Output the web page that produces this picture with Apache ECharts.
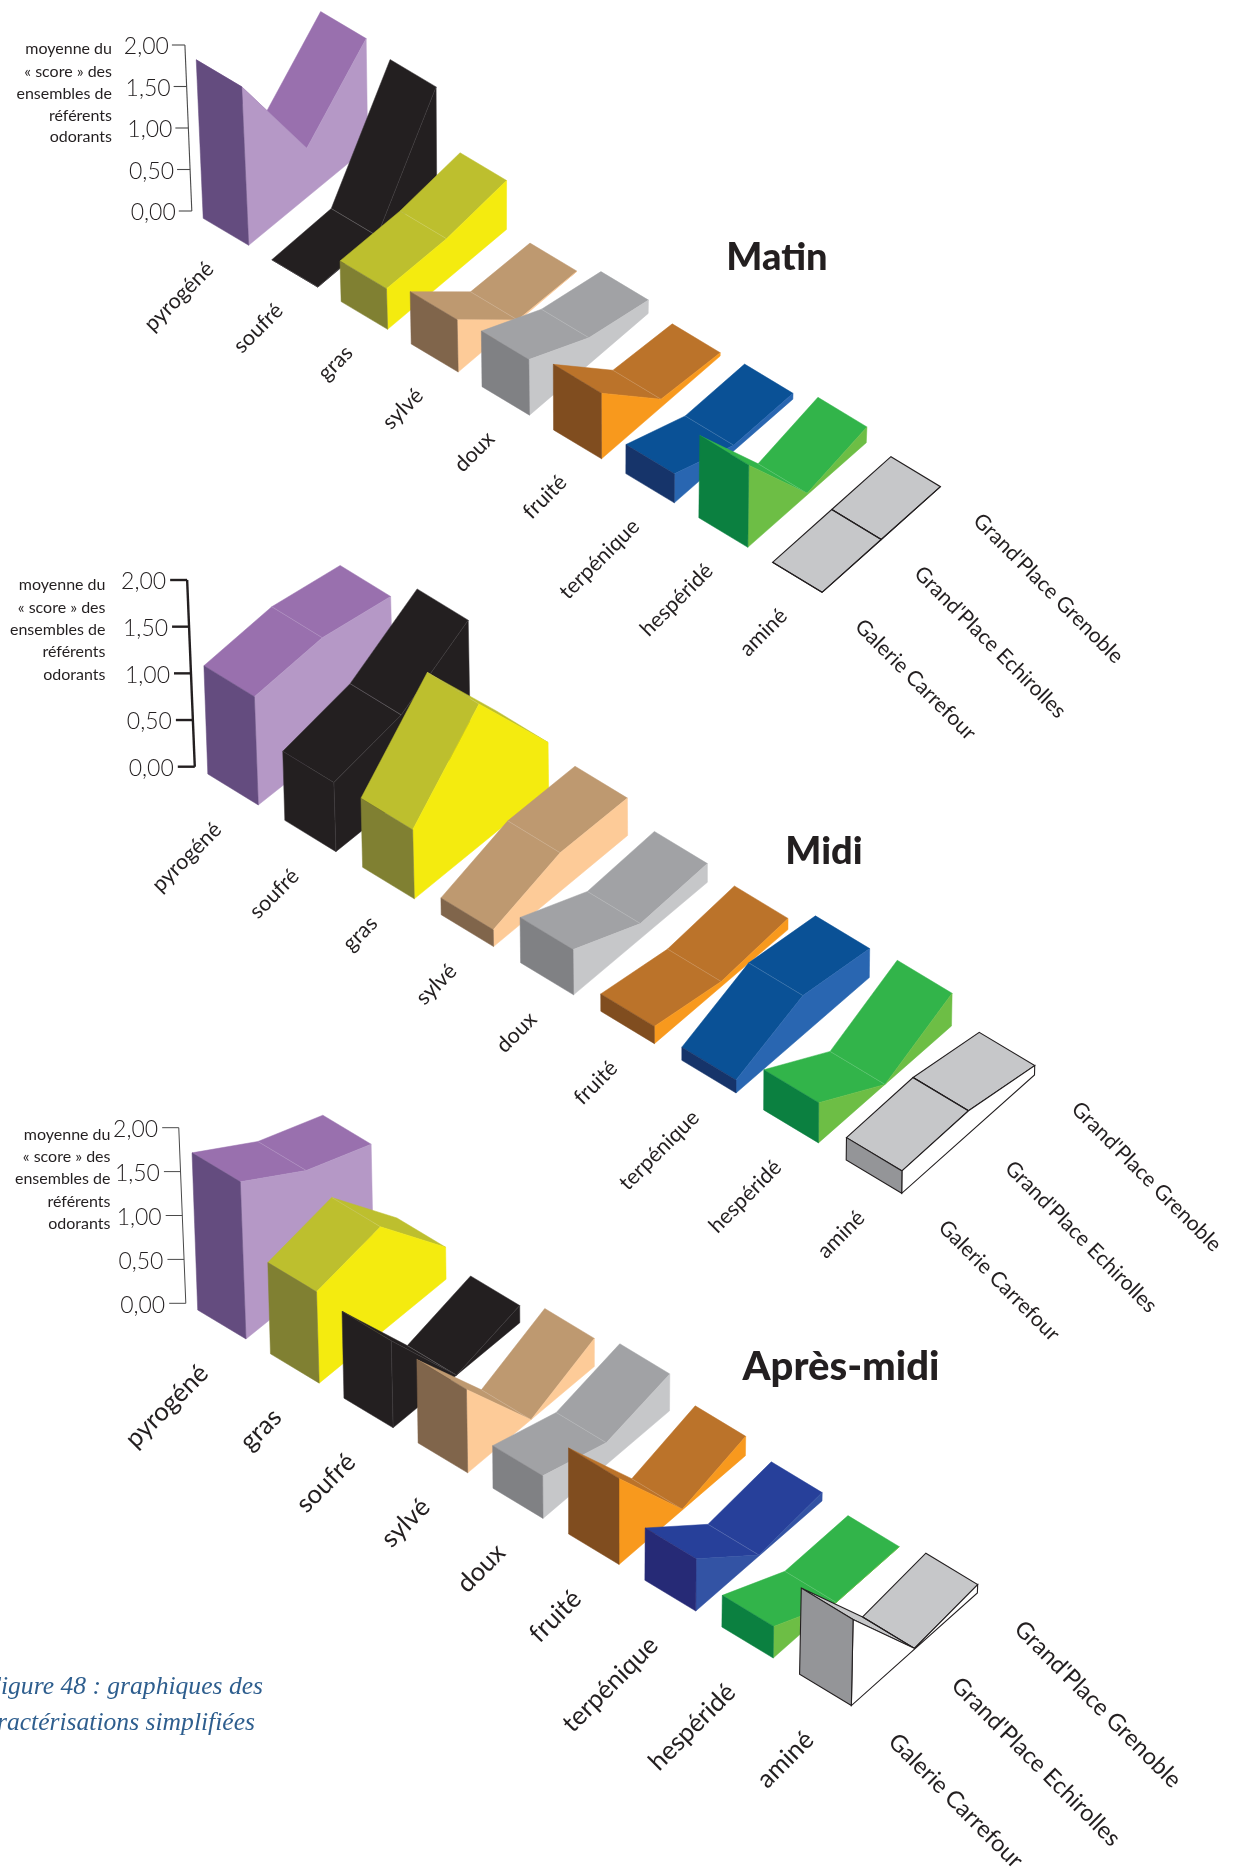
<!DOCTYPE html>
<html><head><meta charset="utf-8">
<style>html,body{margin:0;padding:0;background:#fff}#c{width:1234px;height:1874px}</style>
<script src="https://cdn.jsdelivr.net/npm/echarts@6/dist/echarts.min.js"></script>
</head><body><div id="c"></div>
<script>
// ---------- data ----------
const tickValues = [0, 0.5, 1, 1.5, 2];
const tickLabels = ['0,00', '0,50', '1,00', '1,50', '2,00'];
const locations = ['Galerie Carrefour', "Grand'Place Echirolles", "Grand'Place Grenoble"];
const axisTitleLines = ['moyenne du', '« score » des', 'ensembles de', 'référents', 'odorants'];

const matinCategories = ['pyrogéné', 'soufré', 'gras', 'sylvé', 'doux', 'fruité', 'terpénique', 'hespéridé', 'aminé'];
const matinCarrefour  = [1.91, 0.00, 0.49, 0.63, 0.67, 0.79, 0.35, 0.99, 0];
const matinEchirolles = [0.58, 0.02, 0.49, 0.02, 0.32, 0.10, 0.07, 0.02, 0];
const matinGrenoble   = [1.31, 1.22, 0.59, 0.00, 0.16, 0.04, 0.07, 0.19, 0];

const midiCategories = ['pyrogéné', 'soufré', 'gras', 'sylvé', 'doux', 'fruité', 'terpénique', 'hespéridé', 'aminé'];
const midiCarrefour  = [1.16, 0.74, 0.74, 0.18, 0.485, 0.185, 0.14, 0.43, 0.24];
const midiEchirolles = [1.22, 0.885, 1.50, 0.41, 0.16, 0.055, 0.425, 0.00, 0.25];
const midiGrenoble   = [1.09, 1.32, 0.50, 0.40, 0.20, 0.12, 0.31, 0.35, 0.10];

const apresCategories = ['pyrogéné', 'gras', 'soufré', 'sylvé', 'doux', 'fruité', 'terpénique', 'hespéridé', 'aminé'];
const apresCarrefour  = [1.79, 1.04, 0.99, 0.95, 0.485, 0.98, 0.595, 0.36, 0.98];
const apresEchirolles = [1.335, 1.19, 0.00, 0.00, 0.25, 0.01, 0.01, 0.00, 0.01];
const apresGrenoble   = [1.05, 0.365, 0.195, 0.32, 0.42, 0.22, 0.095, 0.00, 0.095];

// ---------- styles: [top, side, front] ----------
const palette = {
  'pyrogéné':   ['#9970AE', '#B598C6', '#644C7F'],
  'soufré':     ['#231F20', '#231F20', '#231F20'],
  'gras':       ['#BDBF2E', '#F4EB0F', '#808032'],
  'sylvé':      ['#BE9970', '#FDCB98', '#80654B'],
  'doux':       ['#A1A2A5', '#C6C7C9', '#808184'],
  'fruité':     ['#BB732A', '#F8991D', '#804D1F'],
  'terpénique': ['#0A5196', '#2966B1', '#16346A'],
  'hespéridé':  ['#32B44A', '#6DBE45', '#0B8040'],
  'aminé':      ['#C6C7C9', '#FFFFFF', '#949598']
};
const apresTerpene = ['#27409A', '#3353A4', '#262A76'];

const INK = '#231F20';
const LABEL_FONT = 'Lato, "Open Sans", sans-serif';
const TICK_FONT = 'Lato, "Open Sans", sans-serif';

// ---------- oblique projection of each panel ----------
const panels = [
  { name: 'Matin', cats: matinCategories, vals: [matinCarrefour, matinEchirolles, matinGrenoble],
    ox: 203.2, oy: 218.3, up: 83, sx: 68.24, sy: 41.2, cx: 0.366, cy: 0.225,
    w0: [45.5, 27], w8: [49.5, 30], d0: [59.5, -49], d8: [59.2, -52.8], t0: -0.044, t1: 0.008, td: 0.015,
    ax: [-11.4, -7.3], aTilt: -0.0415, tick: 13, gap: 3, aw: 1.1, ac: '#4a4a4a',
    catEnd: [-38.5, 20], catFont: 21.5, locStart: [36.5, 30.5], locFont: 21.2,
    title: { x: 772, y: 253, size: 38 }, titleRight: 112, titleYs: [49.3, 71.7, 94, 115.7, 137.3] },
  { name: 'Midi', cats: midiCategories, vals: [midiCarrefour, midiEchirolles, midiGrenoble],
    ox: 207.8, oy: 774, up: 93.35, sx: 76.6, sy: 46.1, cx: 0.4, cy: 0.269,
    w0: [50.5, 31], w8: [55.5, 33.3], d0: [67.4, -53.4], d8: [66.4, -59.2], t0: -0.036, t1: 0.006, td: 0.006,
    ax: [-13, -7.3], aTilt: -0.041, tick: 17, gap: 4, aw: 2.4, ac: INK,
    catEnd: [-40.5, 21], catFont: 21.5, locStart: [40.5, 30.5], locFont: 21.2,
    title: { x: 819, y: 847, size: 38 }, titleRight: 105.5, titleYs: [585, 608, 630, 652, 675] },
  { name: 'Après-midi', cats: apresCategories, vals: [apresCarrefour, apresEchirolles, apresGrenoble],
    ox: 197.7, oy: 1310, up: 87.8, sx: 72.41, sy: 43.6, cx: 0.353, cy: 0.24,
    w0: [48.3, 29], w8: [51.8, 31.4], d0: [63.5, -51.3], d8: [63, -56.3], t0: -0.036, t1: 0.007, td: 0.008,
    ax: [-11.9, -6.7], aTilt: -0.04, tick: 16.6, gap: 4, aw: 1, ac: '#4a4a4a',
    catEnd: [-42, 30], catFont: 25.7, locStart: [41, 32], locFont: 23.6,
    title: { x: 836, y: 1362, size: 40 }, titleRight: 110.5, titleYs: [1135, 1157, 1179, 1202, 1224] }
];

const lerp = (a, b, f) => a + (b - a) * f;
const LAST = 8;

function project(api, p, i, j, side, v) {
  const b = api.coord([i, 0]);
  const t = api.coord([i, v]);
  const h = b[1] - t[1];
  const f = i / LAST;
  return [
    b[0] + p.cx * i * i + lerp(p.w0[0], p.w8[0], f) * side + lerp(p.d0[0], p.d8[0], f) * j + (p.t0 + p.t1 * i + p.td * j) * h,
    b[1] + p.sy * i + p.cy * i * i + lerp(p.w0[1], p.w8[1], f) * side + lerp(p.d0[1], p.d8[1], f) * j - h
  ];
}

function ribbonRenderer(p, pi) {
  return function (params, api) {
    const i = api.value(0);
    const v = [api.value(1), api.value(2), api.value(3)];
    const cat = p.cats[i];
    let col = palette[cat];
    if (pi === 2 && cat === 'terpénique') col = apresTerpene;
    const amine = cat === 'aminé';
    const black = cat === 'soufré';
    const outline = (fill) => amine ? { fill, stroke: INK, lineWidth: 1.1 }
      : { fill, stroke: black ? '#3a3738' : fill, lineWidth: 0.5 };
    const P = (j, s, val) => project(api, p, i, j, s, val);
    const poly = (pts, fill, k) => ({ type: 'polygon', shape: { points: pts }, style: outline(fill), z2: i * 10 + k });
    const children = [];
    // top faces, back one first
    children.push(poly([P(1, 0, v[1]), P(1, 1, v[1]), P(2, 1, v[2]), P(2, 0, v[2])], col[0], 1));
    children.push(poly([P(0, 0, v[0]), P(0, 1, v[0]), P(1, 1, v[1]), P(1, 0, v[1])], col[0], 2));
    children.push({ type: 'polyline', shape: { points: [P(1, 0, v[1]), P(1, 1, v[1])] },
      style: { fill: null, stroke: amine ? INK : 'rgba(255,255,255,0.28)', lineWidth: amine ? 1.1 : 0.5 }, z2: i * 10 + 3 });
    // right side, one piece with no seam
    children.push(poly([P(0, 1, 0), P(0, 1, v[0]), P(1, 1, v[1]), P(2, 1, v[2]), P(2, 1, 0)], col[1], 4));
    // front face
    children.push(poly([P(0, 0, 0), P(0, 0, v[0]), P(0, 1, v[0]), P(0, 1, 0)], col[2], 6));
    // category label, running up to the right under the ribbon
    const fr = P(0, 1, 0);
    children.push({ type: 'text', x: fr[0] + p.catEnd[0], y: fr[1] + p.catEnd[1], rotation: Math.PI / 4,
      style: { text: cat, align: 'right', verticalAlign: 'middle', fill: INK,
        font: p.catFont + 'px ' + LABEL_FONT }, z2: 200 });
    return { type: 'group', children };
  };
}

function locationRenderer(p) {
  return function (params, api) {
    const j = api.value(0);
    const q = project(api, p, LAST, j, 1, 0);
    return { type: 'text', x: q[0] + p.locStart[0], y: q[1] + p.locStart[1], rotation: -Math.PI / 4,
      style: { text: locations[j], align: 'left', verticalAlign: 'middle', fill: INK,
        font: p.locFont + 'px ' + LABEL_FONT }, z2: 200 };
  };
}

function axisRenderer(p) {
  const at = (api, val) => {
    const c0 = api.coord([0, 0]), c = api.coord([0, val]);
    return [c0[0] + p.ax[0] + p.aTilt * (c0[1] - c[1]), c[1] + p.ax[1]];
  };
  return function (params, api) {
    const val = api.value(0);
    const q = at(api, val);
    const children = [{ type: 'line', shape: { x1: q[0] - p.tick, y1: q[1], x2: q[0], y2: q[1] },
      style: { stroke: p.ac, lineWidth: p.aw } },
      { type: 'text', x: q[0] - p.tick - p.gap, y: q[1] + 2,
        style: { text: tickLabels[params.dataIndex], align: 'right', verticalAlign: 'middle', fill: INK,
          font: '300 23px ' + TICK_FONT } }];
    if (params.dataIndex === 0) {
      const top = at(api, tickValues[tickValues.length - 1]);
      children.push({ type: 'line', shape: { x1: q[0], y1: q[1], x2: top[0], y2: top[1] },
        style: { stroke: p.ac, lineWidth: p.aw } });
    }
    return { type: 'group', children };
  };
}

const grid = [], xAxis = [], yAxis = [], series = [], title = [], graphic = [];
panels.forEach((p, pi) => {
  grid.push({ left: p.ox, width: p.sx * LAST, top: p.oy - 2 * p.up, height: 2 * p.up });
  xAxis.push({ gridIndex: pi, type: 'category', data: p.cats, boundaryGap: false, show: false });
  yAxis.push({ gridIndex: pi, type: 'value', min: 0, max: 2, interval: 0.5, show: false });
  const rows = p.cats.map((c, i) => [i, p.vals[0][i], p.vals[1][i], p.vals[2][i]]);
  series.push({ type: 'custom', name: p.name, xAxisIndex: pi, yAxisIndex: pi, clip: false, silent: true,
    renderItem: ribbonRenderer(p, pi), data: rows, encode: { x: 0, y: [1, 2, 3] }, z: 2 });
  series.push({ type: 'custom', name: p.name + ' axe', xAxisIndex: pi, yAxisIndex: pi, clip: false, silent: true,
    renderItem: axisRenderer(p), data: tickValues.map(t => [t]), encode: { y: 0 }, z: 3 });
  series.push({ type: 'custom', name: p.name + ' lieux', xAxisIndex: pi, yAxisIndex: pi, clip: false, silent: true,
    renderItem: locationRenderer(p), data: locations.map((l, j) => [j]), encode: { x: 0 }, z: 3 });
  title.push({ text: p.name, left: p.title.x, top: p.title.y, textAlign: 'center', textVerticalAlign: 'middle',
    textStyle: { fontFamily: LABEL_FONT, fontWeight: 900, fontSize: p.title.size, color: INK } });
  axisTitleLines.forEach((line, k) => graphic.push({ type: 'text', x: p.titleRight, y: p.titleYs[k],
    style: { text: line, align: 'right', verticalAlign: 'middle', fill: INK, font: '16px ' + LABEL_FONT } }));
});
const CAPTION = '#2E5E8E';
graphic.push({ type: 'text', x: 263, y: 1687, style: { text: 'Figure 48 : graphiques des', align: 'right', verticalAlign: 'middle', fill: CAPTION, font: 'italic 25.6px "Liberation Serif", serif' } });
graphic.push({ type: 'text', x: 255, y: 1723, style: { text: 'caractérisations simplifiées', align: 'right', verticalAlign: 'middle', fill: CAPTION, font: 'italic 25.6px "Liberation Serif", serif' } });

const chart = echarts.init(document.getElementById('c'), null, { renderer: 'canvas', width: 1234, height: 1874 });
chart.setOption({ animation: false, backgroundColor: '#fff', grid, xAxis, yAxis, series, title, graphic, tooltip: { show: false } });
</script></body></html>
